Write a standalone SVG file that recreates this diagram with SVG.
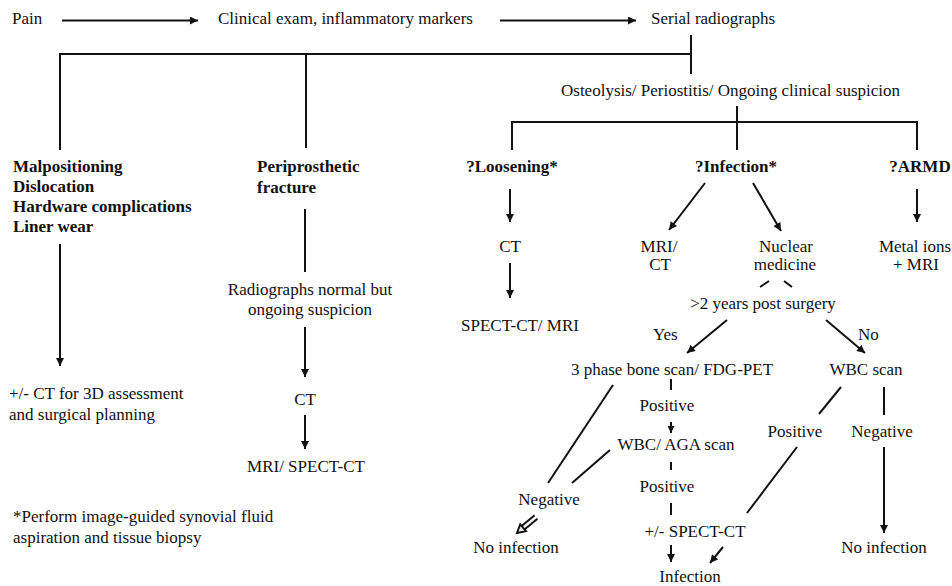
<svg xmlns="http://www.w3.org/2000/svg" width="952" height="586" viewBox="0 0 952 586">
<defs>
<style>
text{font-family:"Liberation Serif","Times New Roman",serif;font-size:17px;fill:#111}
.b{font-weight:bold}
.m{text-anchor:middle}
.c line,.c path{stroke:#111;stroke-width:2;fill:none}
</style>
<marker id="ah" viewBox="0 0 10 10" refX="10" refY="5" markerWidth="9" markerHeight="8" markerUnits="userSpaceOnUse" orient="auto"><path d="M0,0 L10,5 L0,10 z" fill="#111"/></marker>
<marker id="as" viewBox="0 0 10 10" refX="10" refY="5" markerWidth="7" markerHeight="7" markerUnits="userSpaceOnUse" orient="auto"><path d="M0,0 L10,5 L0,10 z" fill="#111"/></marker>
</defs>
<rect width="952" height="586" fill="#fff"/>
<g id="connectors" class="c">
<line x1="62" y1="20.5" x2="198" y2="20.5" marker-end="url(#ah)"/>
<line x1="500" y1="20.5" x2="636" y2="20.5" marker-end="url(#ah)"/>
<line x1="691" y1="35" x2="691" y2="74"/>
<line x1="60" y1="54" x2="691" y2="54"/>
<line x1="60" y1="53" x2="60" y2="150"/>
<line x1="306" y1="54" x2="306" y2="148"/>
<line x1="737" y1="106" x2="737" y2="150"/>
<line x1="512" y1="122" x2="917" y2="122"/>
<line x1="512" y1="121" x2="512" y2="150"/>
<line x1="917" y1="121" x2="917" y2="150"/>
<line x1="60" y1="244" x2="60" y2="366" marker-end="url(#ah)"/>
<line x1="305" y1="209" x2="305" y2="272"/>
<line x1="305" y1="327" x2="305" y2="377" marker-end="url(#ah)"/>
<line x1="305" y1="415" x2="305" y2="449" marker-end="url(#ah)"/>
<line x1="510" y1="189" x2="510" y2="222" marker-end="url(#ah)"/>
<line x1="510" y1="263" x2="510" y2="298" marker-end="url(#ah)"/>
<line x1="917" y1="189" x2="917" y2="222" marker-end="url(#ah)"/>
<line x1="705" y1="183" x2="669" y2="230" marker-end="url(#ah)"/>
<line x1="753" y1="183" x2="781" y2="231" marker-end="url(#ah)"/>
<line x1="760" y1="287" x2="769" y2="281"/>
<line x1="784" y1="281" x2="792" y2="287"/>
<line x1="727" y1="320" x2="687" y2="353" marker-end="url(#ah)"/>
<line x1="826" y1="320" x2="865" y2="353" marker-end="url(#ah)"/>
<line x1="671" y1="379" x2="671" y2="390"/>
<line x1="671" y1="422" x2="671" y2="433" marker-end="url(#as)"/>
<line x1="671" y1="462" x2="671" y2="470"/>
<line x1="671" y1="503" x2="671" y2="515"/>
<line x1="671" y1="545" x2="671" y2="562" marker-end="url(#ah)"/>
<line x1="723" y1="547" x2="710" y2="563" marker-end="url(#ah)"/>
<line x1="613" y1="385" x2="548" y2="483"/>
<line x1="610" y1="450" x2="572" y2="483"/>
<line x1="537.4" y1="518.7" x2="524.5" y2="529.5" stroke-width="1.6"/>
<line x1="534.6" y1="515.3" x2="521.7" y2="526.1" stroke-width="1.6"/>
<path d="M517,533 L526,531.2 L520.2,524.4 z" fill="#111" stroke="none"/>
<line x1="841" y1="387" x2="819" y2="414"/>
<line x1="797" y1="447" x2="747" y2="513"/>
<line x1="884" y1="387" x2="884" y2="415"/>
<line x1="884" y1="447" x2="884" y2="533" marker-end="url(#ah)"/>
</g>
<g id="n-pain"><text x="12" y="24">Pain</text></g>
<g id="n-clinical"><text x="218" y="24">Clinical exam, inflammatory markers</text></g>
<g id="n-serial"><text x="651" y="24">Serial radiographs</text></g>
<g id="n-osteolysis"><text x="561" y="96">Osteolysis/ Periostitis/ Ongoing clinical suspicion</text></g>
<g id="n-malpos"><text class="b" x="13" y="172">Malpositioning</text><text class="b" x="13" y="192">Dislocation</text><text class="b" x="13" y="212">Hardware complications</text><text class="b" x="13" y="232">Liner wear</text></g>
<g id="n-ct3d"><text x="9" y="399">+/- CT for 3D assessment</text><text x="9" y="420">and surgical planning</text></g>
<g id="n-footnote"><text x="13" y="522">*Perform image-guided synovial fluid</text><text x="13" y="543">aspiration and tissue biopsy</text></g>
<g id="n-fracture"><text class="b" x="257" y="172">Periprosthetic</text><text class="b" x="257" y="193">fracture</text></g>
<g id="n-radnormal"><text class="m" x="310" y="295">Radiographs normal but</text><text class="m" x="310" y="315">ongoing suspicion</text></g>
<g id="n-ct1"><text class="m" x="305" y="405">CT</text></g>
<g id="n-mrispect"><text class="m" x="306" y="472">MRI/ SPECT-CT</text></g>
<g id="n-loosening"><text class="b m" x="512" y="172">?Loosening*</text></g>
<g id="n-ct2"><text class="m" x="510" y="252">CT</text></g>
<g id="n-spectmri"><text class="m" x="520" y="331">SPECT-CT/ MRI</text></g>
<g id="n-infection-q"><text class="b m" x="736" y="172">?Infection*</text></g>
<g id="n-mrict"><text class="m" x="659" y="252">MRI/</text><text class="m" x="660" y="270">CT</text></g>
<g id="n-nuclear"><text class="m" x="786" y="252">Nuclear</text><text class="m" x="785" y="270">medicine</text></g>
<g id="n-armd"><text class="b m" x="920" y="172">?ARMD</text></g>
<g id="n-metal"><text class="m" x="915" y="252">Metal ions</text><text class="m" x="916" y="270">+ MRI</text></g>
<g id="n-2years"><text class="m" x="763" y="309">&gt;2 years post surgery</text></g>
<g id="n-yes"><text x="653" y="340">Yes</text></g>
<g id="n-no"><text x="858" y="340">No</text></g>
<g id="n-3phase"><text class="m" x="672" y="375">3 phase bone scan/ FDG-PET</text></g>
<g id="n-wbcscan"><text class="m" x="866" y="375">WBC scan</text></g>
<g id="n-pos1"><text class="m" x="667" y="411">Positive</text></g>
<g id="n-wbcaga"><text class="m" x="676" y="450">WBC/ AGA scan</text></g>
<g id="n-pos2"><text class="m" x="667" y="492">Positive</text></g>
<g id="n-spectct"><text class="m" x="695" y="537">+/- SPECT-CT</text></g>
<g id="n-infection"><text class="m" x="690" y="582">Infection</text></g>
<g id="n-neg1"><text class="m" x="549" y="505">Negative</text></g>
<g id="n-noinf1"><text class="m" x="516" y="553">No infection</text></g>
<g id="n-pos3"><text class="m" x="795" y="437">Positive</text></g>
<g id="n-neg2"><text class="m" x="882" y="437">Negative</text></g>
<g id="n-noinf2"><text class="m" x="884" y="553">No infection</text></g>
</svg>
